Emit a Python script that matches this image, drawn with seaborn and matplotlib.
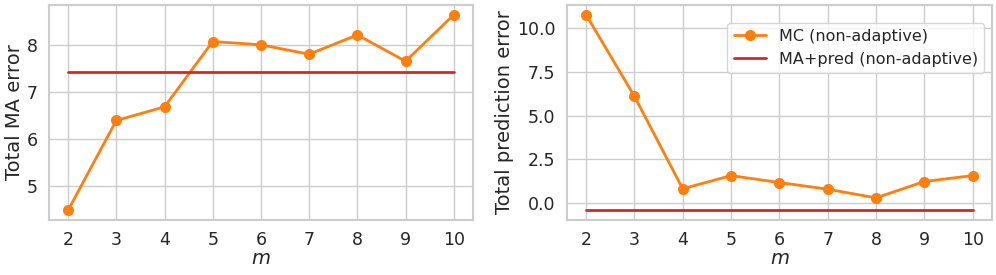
import matplotlib
matplotlib.use("Agg")
import matplotlib.pyplot as plt
import seaborn as sns
import pandas as pd

m_values = [2, 3, 4, 5, 6, 7, 8, 9, 10]
ma_error_mc = [4.49, 6.40, 6.69, 8.08, 8.01, 7.81, 8.22, 7.66, 8.65]
ma_error_pred = 7.43
pred_error_mc = [10.79, 6.11, 0.79, 1.55, 1.15, 0.77, 0.27, 1.21, 1.55]
pred_error_pred = -0.44

sns.set_theme(style="whitegrid")
plt.rcParams['font.family'] = ['DejaVu Sans']

ORANGE = "#ff7f0e"
RED = "#d62728"

fig = plt.figure(figsize=(9.96, 2.75), dpi=100)
ax1 = fig.add_axes([0.049, 0.2, 0.426, 0.782])
ax2 = fig.add_axes([0.569, 0.2, 0.427, 0.782])

def draw(ax, mc, pred, ylabel):
    df = pd.DataFrame({"m": m_values, "mc": mc, "pred": [pred] * len(m_values)})
    sns.lineplot(data=df, x="m", y="mc", ax=ax, color=ORANGE, marker="o",
                 markersize=8, markeredgewidth=0, linewidth=2,
                 label="MC (non-adaptive)")
    sns.lineplot(data=df, x="m", y="pred", ax=ax, color=RED, linewidth=2,
                 label="MA+pred (non-adaptive)")
    ax.set_xticks(m_values)
    ax.set_xlabel("$m$", fontsize=14, labelpad=0)
    ax.set_ylabel(ylabel, fontsize=14, labelpad=2)
    ax.tick_params(labelsize=12.5, pad=2)
    for s in ax.spines.values():
        s.set_color("#cccccc")
        s.set_linewidth(1.5)

draw(ax1, ma_error_mc, ma_error_pred, "Total MA error")
ax1.get_legend().remove()
draw(ax2, pred_error_mc, pred_error_pred, "Total prediction error")
ax2.legend(loc="upper right", fontsize=11.5, frameon=True,
           bbox_to_anchor=(1.0, 0.955))

fig.savefig("out.png", dpi=100)
